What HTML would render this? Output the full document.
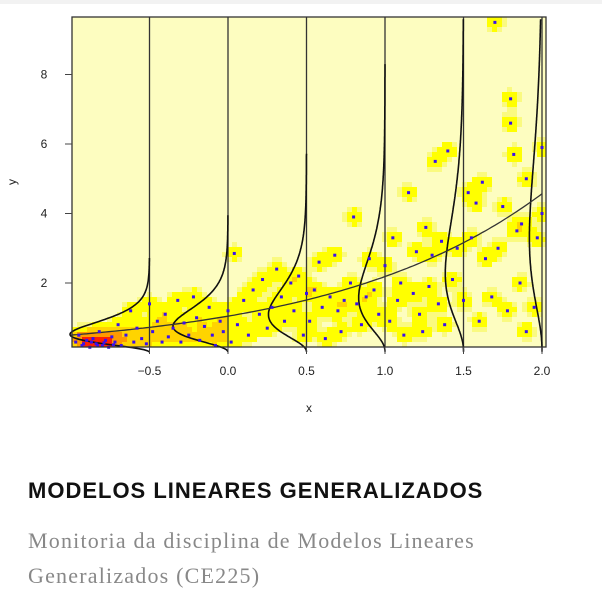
<!DOCTYPE html>
<html><head><meta charset="utf-8"><style>
body{margin:0;width:602px;height:594px;background:#fff;overflow:hidden;font-family:"Liberation Sans",sans-serif}
#topbar{position:absolute;left:0;top:0;width:602px;height:4px;background:#f2f2f2}
#title{position:absolute;left:28px;top:478px;font-size:22px;font-weight:bold;color:#111;letter-spacing:1px;white-space:nowrap}
#sub{position:absolute;left:28px;top:523px;width:470px;font-family:"Liberation Serif",serif;font-size:22px;letter-spacing:1.2px;line-height:35px;color:#888}
</style></head><body>
<div id="topbar"></div>
<svg id="chart" width="602" height="440" style="position:absolute;left:0;top:0" font-family="Liberation Sans, sans-serif"></svg>
<div id="title">MODELOS LINEARES GENERALIZADOS</div>
<div id="sub">Monitoria da disciplina de Modelos Lineares Generalizados (CE225)</div>
<script>
const xTicks=[-0.5,0,0.5,1.0,1.5,2.0];
const xTickLabels=["\u22120.5","0.0","0.5","1.0","1.5","2.0"];
const yTicks=[2,4,6,8];
const curveXs=[-0.5,0,0.5,1.0,1.5,2.0];
const coefA=0.045, coefB=0.737, shapeK=3.6;
const ptsX=[-0.97,-0.95,-0.93,-0.9,-0.88,-0.86,-0.84,-0.82,-0.8,-0.78,-0.76,-0.74,-0.72,-0.7,-0.68,-0.65,-0.62,-0.6,-0.58,-0.55,-0.52,-0.5,-0.48,-0.45,-0.42,-0.4,-0.38,-0.35,-0.32,-0.3,-0.28,-0.25,-0.22,-0.2,-0.18,-0.15,-0.12,-0.1,-0.08,-0.05,-0.03,0.0,0.02,0.04,0.06,0.1,0.13,0.16,0.2,0.22,0.25,0.28,0.31,0.34,0.36,0.4,0.42,0.45,0.48,0.5,0.52,0.55,0.58,0.6,0.62,0.65,0.68,0.7,0.72,0.74,0.78,0.8,0.82,0.85,0.88,0.9,0.93,0.96,1.0,1.03,1.05,1.08,1.1,1.12,1.15,1.18,1.2,1.22,1.24,1.26,1.28,1.3,1.32,1.34,1.36,1.38,1.4,1.43,1.46,1.5,1.53,1.55,1.58,1.6,1.62,1.64,1.68,1.7,1.72,1.75,1.78,1.8,1.8,1.82,1.84,1.86,1.87,1.9,1.9,1.95,1.97,2.0,2.0,-0.92,-0.87,-0.83,-0.79,-0.73];
const ptsY=[0.3,0.5,0.2,0.35,0.15,0.4,0.25,0.6,0.2,0.35,0.15,0.45,0.3,0.8,0.2,0.5,1.2,0.3,0.7,0.4,0.25,1.4,0.6,0.9,0.3,1.1,0.45,0.7,1.5,0.3,0.85,0.5,1.6,1.0,0.35,0.75,1.3,0.5,0.2,0.9,0.6,1.2,0.3,2.85,0.8,1.5,0.5,1.8,1.1,2.1,0.7,1.3,2.4,1.6,0.9,2.0,1.2,2.2,0.5,1.7,0.9,1.8,2.6,1.3,0.4,1.6,2.8,1.2,0.6,1.5,2.0,3.9,1.4,0.8,1.6,2.7,1.8,1.1,2.5,0.9,3.3,1.5,2.0,0.5,4.6,1.7,2.9,1.1,0.6,3.6,1.9,2.8,5.5,1.4,3.2,0.8,5.8,2.1,3.0,1.5,4.6,3.3,4.3,0.9,4.9,2.7,1.6,9.5,3.0,4.2,1.2,7.3,6.6,5.7,3.5,2.0,3.7,0.6,5.0,1.3,3.3,5.9,4.0,0.25,0.3,0.2,0.28,0.22];
const NS="http://www.w3.org/2000/svg";
const svg=document.getElementById('chart');
const L=72,R=546,T=17,B=347;
const sx=v=>228+v*157, sy=v=>352.5-v*34.75;
function mk(t,a,p){const e=document.createElementNS(NS,t);for(const k in a)e.setAttribute(k,a[k]);(p||svg).appendChild(e);return e;}
mk('rect',{x:L,y:T,width:R-L,height:B-T,fill:'#fdfdc0'});
const hm=mk('g',{});


const cs=5,sig=6.5;
for(let cx=L;cx<R;cx+=cs){for(let cy=T;cy<B;cy+=cs){
 let s=0;const mx=cx+cs/2,my=cy+cs/2;
 for(let i=0;i<ptsX.length;i++){const dx=sx(ptsX[i])-mx,dy=sy(ptsY[i])-my;s+=Math.exp(-(dx*dx+dy*dy)/(2*sig*sig));}
 let c=null;
 if(s>4.5)c='#ff2000';else if(s>2.4)c='#ff9a00';else if(s>1.4)c='#ffd400';else if(s>0.5)c='#ffff00';else if(s>0.3)c='#fafa80';
 if(c){const r=mk('rect',{x:cx,y:cy,width:Math.min(cs,R-cx),height:Math.min(cs,B-cy),fill:c},hm);
 
 }
}}
function lg(z){const c=[76.18009172947146,-86.50532032941677,24.01409824083091,-1.231739572450155,0.1208650973866179e-2,-0.5395239384953e-5];let x=z,y=z,t=x+5.5;t-=(x+0.5)*Math.log(t);let s=1.000000000190015;for(let j=0;j<6;j++)s+=c[j]/++y;return -t+Math.log(2.5066282746310005*s/x);}
function gd(y,mu){const r=shapeK/mu;return Math.exp(shapeK*Math.log(r)+(shapeK-1)*Math.log(y)-r*y-lg(shapeK));}
const muAt=x=>Math.exp(coefA+coefB*x);
const scale=55/gd(muAt(0)*(shapeK-1)/shapeK,muAt(0));
curveXs.forEach((x,i)=>{
 const vl=mk('line',{x1:sx(x),x2:sx(x),y1:T,y2:B,stroke:'#333','stroke-width':1.3});
 
 
 const mu=muAt(x),top=Math.min(9.6,3.8*mu);let d='';
 for(let y=0.02;y<=top;y+=0.03){d+=(d?'L':'M')+(sx(x)-scale*gd(y,mu)).toFixed(1)+','+sy(y).toFixed(1);}
 const p=mk('path',{d:d,fill:'none',stroke:'#111','stroke-width':1.6});
 
 
});
let md='';for(let x=-1;x<=2.001;x+=0.02)md+=(md?'L':'M')+sx(x).toFixed(1)+','+sy(muAt(x)).toFixed(1);
const mc=mk('path',{d:md,fill:'none',stroke:'#333','stroke-width':1.3});


for(let i=0;i<ptsX.length;i++){const pt=mk('rect',{x:sx(ptsX[i])-1.5,y:sy(ptsY[i])-1.5,width:3,height:3,fill:'#3a10ee'});
 
 }
mk('rect',{x:L,y:T,width:R-L,height:B-T,fill:'none',stroke:'#333','stroke-width':1.3});
xTicks.forEach((v,i)=>{mk('line',{x1:sx(v),x2:sx(v),y1:B,y2:B+7,stroke:'#444'});
 const t=mk('text',{x:sx(v),y:B+28,'font-size':12,'text-anchor':'middle',fill:'#222'});t.textContent=xTickLabels[i];
 
 });
yTicks.forEach(v=>{mk('line',{x1:L-7,x2:L,y1:sy(v),y2:sy(v),stroke:'#444'});
 const t=mk('text',{x:44,y:sy(v)+4,'font-size':12,'text-anchor':'middle',fill:'#222'});t.textContent=v;
 
 });
const xl=mk('text',{x:309,y:412,'font-size':12,'text-anchor':'middle',fill:'#222'});xl.textContent='x';


const yl=mk('text',{x:16,y:182,'font-size':12,'text-anchor':'middle',fill:'#222',transform:'rotate(-90 16 182)'});yl.textContent='y';


</script>
</body></html>
